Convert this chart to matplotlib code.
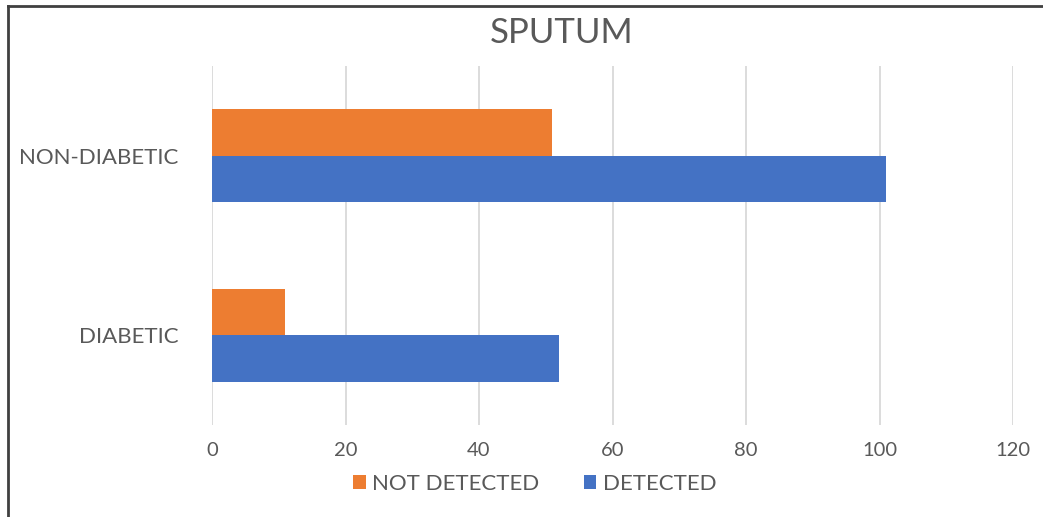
import matplotlib
matplotlib.use("Agg")
import matplotlib.pyplot as plt
from matplotlib.lines import Line2D
from matplotlib.patches import Patch
import numpy as np

plt.rcParams['font.family'] = ['Lato', 'DejaVu Sans']

categories = ["DIABETIC", "NON-DIABETIC"]
detected = [52, 101]
not_detected = [11, 51]
series_names = ["NOT DETECTED", "DETECTED"]
x_ticks = [0, 20, 40, 60, 80, 100, 120]

ORANGE = "#ED7D31"
BLUE = "#4472C4"
TEXT = "#595959"
GRID = "#D9D9D9"

W, H = 1043, 517
fig = plt.figure(figsize=(W / 100, H / 100), dpi=100)
ax = fig.add_axes([212 / W, 1 - 425 / H, (1013 - 212) / W, (425 - 66) / H])

y = np.arange(len(categories))
bh = 0.26
ax.barh(y + bh / 2, not_detected, height=bh, color=ORANGE, zorder=3)
ax.barh(y - bh / 2, detected, height=bh, color=BLUE, zorder=3)

ax.set_xlim(0, 120)
ax.set_ylim(-0.5, 1.5)
ax.set_xticks(x_ticks)
ax.set_xticklabels([str(t) for t in x_ticks])
ax.set_yticks(y)
ax.set_yticklabels(categories)
ax.grid(axis="x", color=GRID, linewidth=1.3, zorder=0)
ax.tick_params(axis="x", length=0, pad=12, labelsize=14.5, labelcolor=TEXT)
ax.tick_params(axis="y", length=0, pad=24, labelsize=16, labelcolor=TEXT)
for s in ax.spines.values():
    s.set_visible(False)

fig.text(562 / W, 1 - 33 / H, "SPUTUM", ha="center", va="center",
         fontsize=25, color=TEXT)

handles = [Patch(facecolor=ORANGE), Patch(facecolor=BLUE)]
fig.legend(handles, series_names, loc="center", bbox_to_anchor=(535 / W, 1 - 484 / H),
           ncol=2, frameon=False, fontsize=16, labelcolor=TEXT,
           handlelength=0.55, handleheight=0.55, handletextpad=0.3, columnspacing=2.0)

# frame edges along the top and left
fig.add_artist(Line2D([7.5 / W, 7.5 / W], [0, 1 - 6 / H], transform=fig.transFigure,
                      color="#404040", linewidth=2))
fig.add_artist(Line2D([7.5 / W, 1], [1 - 6 / H, 1 - 6 / H], transform=fig.transFigure,
                      color="#404040", linewidth=2))

fig.savefig("out.png", dpi=100, facecolor="white")
